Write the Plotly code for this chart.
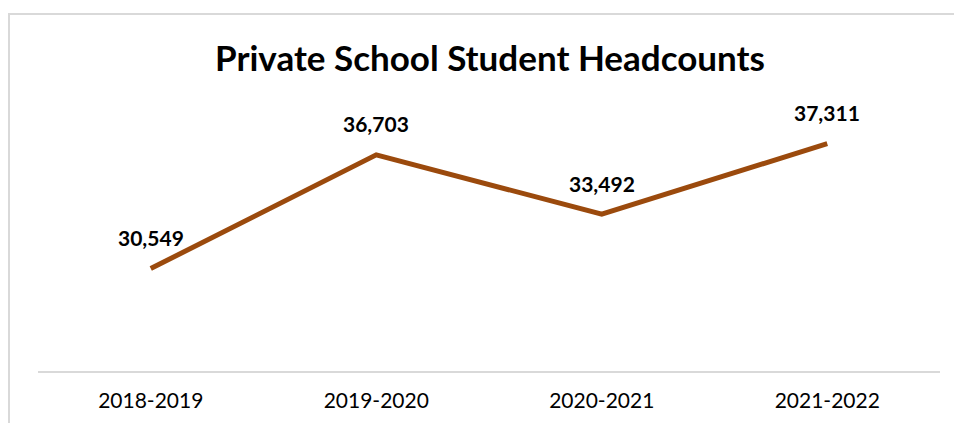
import plotly.graph_objects as go

years = ["2018-2019", "2019-2020", "2020-2021", "2021-2022"]
headcounts = [30549, 36703, 33492, 37311]
title_text = "Private School Student Headcounts"

W, H = 954, 423
L, R, T, B = 38, 14, 94, 52

fig = go.Figure()
fig.add_trace(go.Scatter(
    x=years, y=headcounts, mode="lines",
    line=dict(color="#9B4A0D", width=5),
    hoverinfo="skip", showlegend=False,
))

for yr, v in zip(years, headcounts):
    fig.add_annotation(
        x=yr, y=v, text=f"<b>{v:,}</b>", showarrow=False,
        yshift=31, font=dict(family="Lato", size=21, color="#000000"),
    )

pw = W - L - R
ph = H - T - B
# chart border (partly outside the visible window)
x0 = (9 - L) / pw
y1 = (H - B - 14) / ph
fig.add_shape(type="rect", xref="paper", yref="paper",
              x0=x0, x1=(W + 10 - L) / pw, y0=-(B + 20) / ph, y1=y1,
              line=dict(color="#d9d9d9", width=2), fillcolor="rgba(0,0,0,0)",
              layer="below")

fig.update_layout(
    width=W, height=H,
    margin=dict(l=L, r=R, t=T, b=B, pad=0),
    paper_bgcolor="white", plot_bgcolor="white",
    title=dict(text=f"<b>{title_text}</b>", x=(490 / W), xanchor="center",
               y=1 - 59 / H, yanchor="middle", yref="container",
               font=dict(family="Lato", size=35, color="#000000")),
    xaxis=dict(range=[-0.5, 3.5], showgrid=False, zeroline=False,
               showline=True, linecolor="#d9d9d9", linewidth=2,
               ticks="outside", ticklen=10, tickcolor="rgba(0,0,0,0)",
               tickfont=dict(family="Lato", size=21, color="#000000"),
               fixedrange=True),
    yaxis=dict(range=[25000, 40000], showgrid=False, zeroline=False,
               showticklabels=False, showline=False, fixedrange=True),
)

fig.write_html("out.html", config={"displayModeBar": False},
               post_script="document.body.style.margin='0';document.body.style.padding='0';")
